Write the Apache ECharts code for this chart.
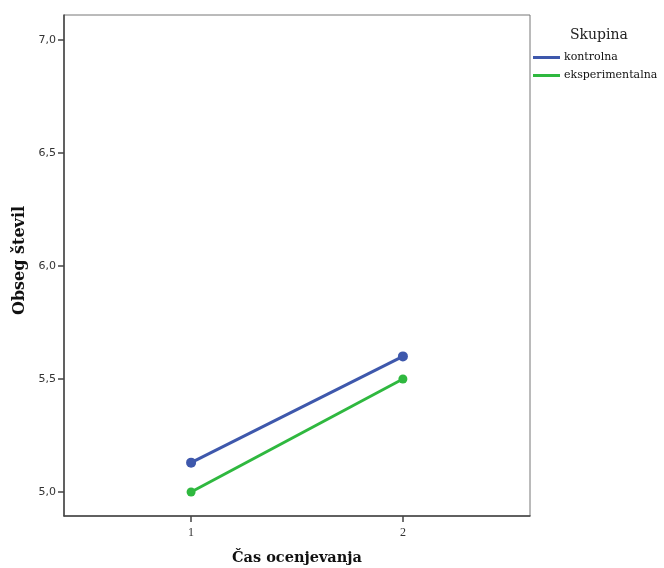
<!DOCTYPE html>
<html><head><meta charset="utf-8">
<script src="https://cdn.jsdelivr.net/npm/echarts@6/dist/echarts.min.js"></script>
<style>html,body{margin:0;padding:0;background:#fff}#c{width:664px;height:568px}</style>
</head><body><div id="c"></div>
<script>
var categories = [1, 2];
var kontrolna = [5.13, 5.60];
var eksperimentalna = [5.00, 5.50];
var yTicks = [5.0, 5.5, 6.0, 6.5, 7.0];
var seriesNames = ['kontrolna', 'eksperimentalna'];

var chart = echarts.init(document.getElementById('c'));
function pairs(vals){ return categories.map(function(c,i){ return [c, vals[i]]; }); }
chart.setOption({
  animation: false,
  grid: {left: 64, top: 15, right: 134, bottom: 52, show: true, borderColor: '#777', borderWidth: 1, outerBoundsMode: 'none', containLabel: false},
  legend: {
    orient: 'vertical', left: 528, top: 47, icon: 'rect', itemWidth: 27, itemHeight: 3, itemGap: 7,
    data: seriesNames,
    textStyle: {fontFamily: 'DejaVu Serif', fontSize: 11, color: '#111', padding: [0,0,0,-1]}
  },
  title: {text: 'Skupina', left: 565, top: 23, textStyle: {fontFamily: 'DejaVu Serif', fontSize: 14, fontWeight: 'normal', color: '#222'}},
  xAxis: {
    type: 'value', min: 0.4, max: 2.6,
    name: 'Čas ocenjevanja', nameLocation: 'middle', nameGap: 35,
    nameTextStyle: {fontFamily: 'DejaVu Serif', fontWeight: 'bold', fontSize: 14.5, color: '#111'},
    axisLine: {lineStyle: {color: '#444', width: 1.5}},
    axisTick: {show: true, length: 6, customValues: categories, lineStyle: {color: '#444', width: 1.5}},
    axisLabel: {customValues: categories, fontFamily: 'Liberation Serif', fontSize: 12, color: '#333', margin: 11},
    splitLine: {show: false}
  },
  yAxis: {
    type: 'value', min: 4.894, max: 7.11,
    name: 'Obseg števil', nameLocation: 'middle', nameGap: 36, nameRotate: 90,
    nameTextStyle: {fontFamily: 'DejaVu Serif', fontWeight: 'bold', fontSize: 16, color: '#111', padding: [0,0,0,10]},
    axisLine: {show: true, lineStyle: {color: '#444', width: 1.5}},
    axisTick: {show: true, length: 6, customValues: yTicks, lineStyle: {color: '#444', width: 1.5}},
    axisLabel: {customValues: yTicks, fontFamily: 'DejaVu Sans', fontSize: 11, color: '#333', margin: 8,
      formatter: function(v){ return v.toFixed(1).replace('.', ','); }},
    splitLine: {show: false}
  },
  series: [
    {name: seriesNames[0], type: 'line', data: pairs(kontrolna), symbol: 'circle', symbolSize: 10,
     itemStyle: {color: '#3e58ac'}, lineStyle: {color: '#3e58ac', width: 3}},
    {name: seriesNames[1], type: 'line', data: pairs(eksperimentalna), symbol: 'circle', symbolSize: 9,
     itemStyle: {color: '#2fb83f'}, lineStyle: {color: '#2fb83f', width: 3}}
  ]
});
</script></body></html>
